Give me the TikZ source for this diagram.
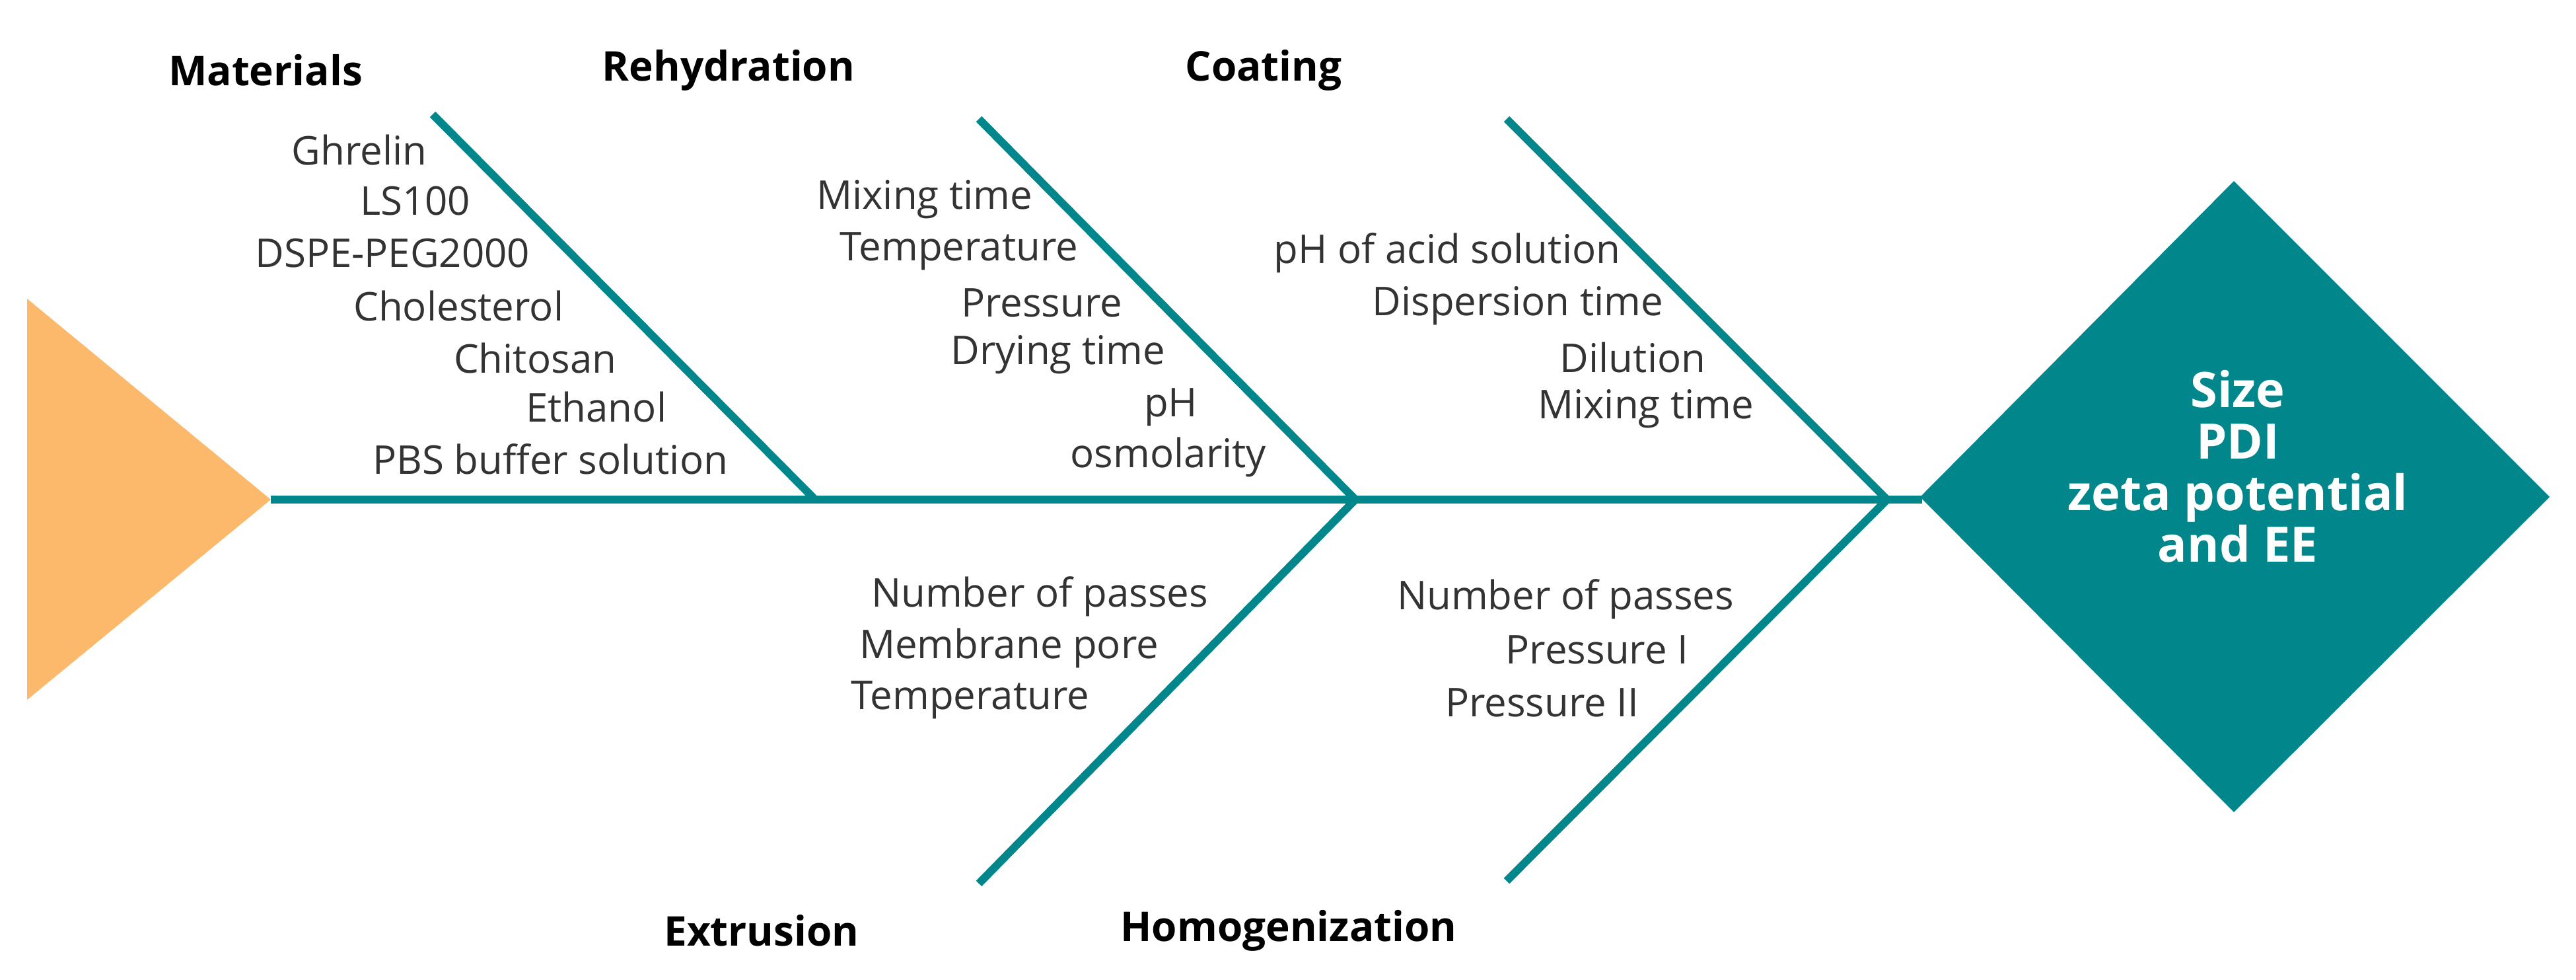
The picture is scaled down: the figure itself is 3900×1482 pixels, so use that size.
\documentclass[tikz,border=0pt]{standalone}
\usepackage{fontspec}
\setmainfont{Open Sans}
\definecolor{teal1}{HTML}{00868B}
\definecolor{orng}{HTML}{FDB96B}
\definecolor{txt}{HTML}{333333}
\begin{document}
\begin{tikzpicture}[x=0.25pt,y=-0.25pt,
  bone/.style={draw=teal1,line width=3pt},
  item/.style={anchor=east,inner sep=0pt,text=txt,font=\fontsize{15}{18}\selectfont},
  head/.style={inner sep=0pt,text=black,font=\fontsize{15.5}{18}\selectfont\bfseries}]
\useasboundingbox (0,0) rectangle (3900,1482);
\fill[orng] (41,452) -- (410,756) -- (41,1059) -- cycle;
\coordinate (tip) at (410,756);
\coordinate (j1) at (1234,756);
\coordinate (j2) at (2052,756);
\coordinate (j3) at (2857,756);
\coordinate (m0) at (655,173);
\coordinate (r0) at (1482,180);
\coordinate (e0) at (1482,1337);
\coordinate (c0) at (2281,180);
\coordinate (h0) at (2281,1333);
\fill[teal1] (2907,752) -- (3382,274) -- (3860,752) -- (3382,1229) -- cycle;
\node (eff) at (3388,706) [align=center,text=white,inner sep=0pt,font=\fontsize{18.5}{19.5}\selectfont\bfseries] {Size\\PDI\\zeta potential\\and EE};
\coordinate (dl) at (2910,756);
\draw[bone] (tip) -- (dl);
\draw[bone] (m0) -- (j1);
\draw[bone] (r0) -- (j2) -- (e0);
\draw[bone] (c0) -- (j3) -- (h0);
\node[head] (hm) at (402,106) {Materials};
\node[head] (hr) at (1103,106) {Rehydration};
\node[head] (hc) at (1913,106) {Coating};
\node[head] (he) at (1153,1408) {Extrusion};
\node[head] (hh) at (1951,1408) {Homogenization};
% materials
\node[item] at (647,227) {Ghrelin};
\node[item] at (713,304) {LS100};
\node[item] at (803,383) {DSPE-PEG2000};
\node[item] at (854,463) {Cholesterol};
\node[item] at (934,542) {Chitosan};
\node[item] at (1010,616) {Ethanol};
\node[item] at (1103,695) {PBS buffer solution};
% rehydration
\node[item] at (1564,302) {Mixing time};
\node[item] at (1633,380) {Temperature};
\node[item] at (1700,458) {Pressure};
\node[item] at (1765,537) {Drying time};
\node[item] at (1814,616) {pH};
\node[item] at (1918,692) {osmolarity};
% coating
\node[item] at (2454,383) {pH of acid solution};
\node[item] at (2519,463) {Dispersion time};
\node[item] at (2583,541) {Dilution};
\node[item] at (2656,619) {Mixing time};
% extrusion
\node[item] at (1830,903) {Number of passes};
\node[item] at (1755,981) {Membrane pore};
\node[item] at (1650,1059) {Temperature};
% homogenization
\node[item] at (2626,907) {Number of passes};
\node[item] at (2557,983) {Pressure I};
\node[item] at (2482,1063) {Pressure II};
\end{tikzpicture}
\end{document}
